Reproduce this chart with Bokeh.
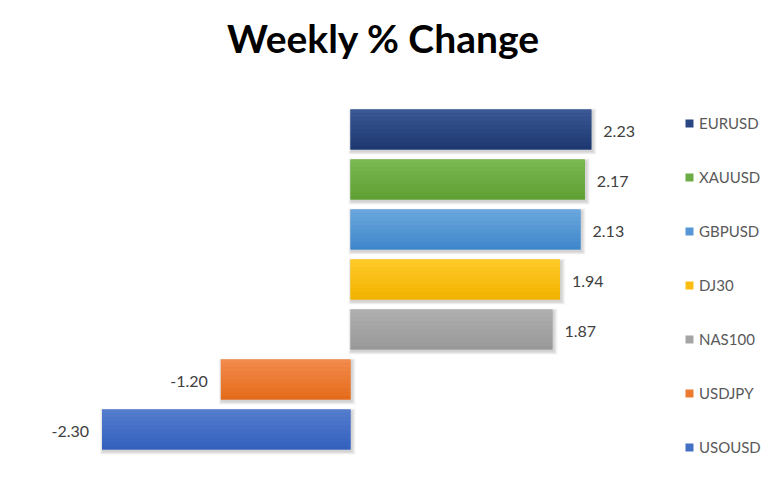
from bokeh.plotting import figure
from bokeh.models import ColumnDataSource, Range1d, Label, Legend, LegendItem
from bokeh.core.properties import value
from bokeh.embed import file_html
from bokeh.resources import INLINE
import numpy as np

categories = ["EURUSD", "XAUUSD", "GBPUSD", "DJ30", "NAS100", "USDJPY", "USOUSD"]
values = [2.23, 2.17, 2.13, 1.94, 1.87, -1.20, -2.30]
top_colors = ["#3b5894", "#7ab851", "#6aa6dd", "#ffc928", "#afafaf", "#f28b4c", "#537ccd"]
bottom_colors = ["#1d3870", "#5f9f33", "#3f87cb", "#f2b300", "#989898", "#e46b1b", "#3461be"]
base_colors = ["#2a4682", "#6dac45", "#5598d5", "#fbbe10", "#a5a5a5", "#ec7b32", "#4470c6"]
title_text = "Weekly % Change"

W, H = 761, 461
PX_PER_X = 108.0
PX_PER_Y = 50.0
ZERO_PX = 350.0
BASE_PX = 32.0

p = figure(width=W, height=H, output_backend="svg", toolbar_location=None,
           x_range=Range1d(-ZERO_PX / PX_PER_X, (W - ZERO_PX) / PX_PER_X),
           y_range=Range1d(-BASE_PX / PX_PER_Y, (H - BASE_PX) / PX_PER_Y),
           min_border=0, min_border_left=0, min_border_right=0,
           min_border_top=0, min_border_bottom=0)
p.axis.visible = False
p.grid.visible = False
p.outline_line_color = None
p.background_fill_color = "white"
p.border_fill_color = "white"

n = len(categories)
ys = [n - 1 - i for i in range(n)]
bar_h = 0.8

src = ColumnDataSource(dict(cat=categories, val=values, y=ys, color=base_colors,
                            zero=[0] * n))

# soft shadow layers (down-right)
dx = 1.0 / PX_PER_X
dy = 1.0 / PX_PER_Y
for k in range(5, 0, -1):
    lefts = [min(0, v) + 1 * dx - k * dx * 0.6 for v in values]
    rights = [max(0, v) + 1 * dx + k * dx * 0.8 for v in values]
    sy = [y - 2 * dy for y in ys]
    p.hbar(y=sy, left=lefts, right=rights, height=bar_h + k * dy * 1.2,
           fill_color="black", fill_alpha=0.035, line_color=None)

# base bars (used for legend)
base = p.hbar(y="y", left="zero", right="val", height=bar_h, source=src,
              fill_color="color", line_color=None)

# gradient strips
def hex2rgb(h):
    h = h.lstrip("#")
    return np.array([int(h[i:i + 2], 16) for i in (0, 2, 4)], dtype=float)

def rgb2hex(c):
    return "#%02x%02x%02x" % tuple(int(round(x)) for x in c)

N = 10
strip_h = bar_h / N
for s in range(N):
    t = s / (N - 1)
    cols = [rgb2hex(hex2rgb(tc) * (1 - t) + hex2rgb(bc) * t) for tc, bc in zip(top_colors, bottom_colors)]
    sy = [y + bar_h / 2 - strip_h * (s + 0.5) for y in ys]
    p.hbar(y=sy, left=[0] * n, right=values, height=strip_h * 1.02,
           fill_color=cols, line_color=None)

# value labels
pos = ColumnDataSource(dict(x=[v for v in values if v >= 0], y=[y for v, y in zip(values, ys) if v >= 0],
                            t=["%.2f" % v for v in values if v >= 0]))
neg = ColumnDataSource(dict(x=[v for v in values if v < 0], y=[y for v, y in zip(values, ys) if v < 0],
                            t=["%.2f" % v for v in values if v < 0]))
p.text(x="x", y="y", text="t", source=pos, x_offset=12, y_offset=2,
       text_align="left", text_baseline="middle", text_font=value("Lato"),
       text_font_size="16px", text_color="#404040")
p.text(x="x", y="y", text="t", source=neg, x_offset=-13, y_offset=2,
       text_align="right", text_baseline="middle", text_font=value("Lato"),
       text_font_size="16px", text_color="#404040")

# title
p.add_layout(Label(x=383, y=424, x_units="screen", y_units="screen", text=title_text,
                   text_align="center", text_baseline="alphabetic",
                   text_font="Lato", text_font_style="bold", text_font_size="39px",
                   text_color="black"))

# legend
items = [LegendItem(label=c, renderers=[base], index=i) for i, c in enumerate(categories)]
legend = Legend(items=items, location=(684, 4), orientation="vertical",
                glyph_width=10, glyph_height=10, label_height=20, spacing=34,
                label_standoff=5, padding=0, margin=0,
                border_line_color=None, background_fill_alpha=0,
                label_text_font="Lato", label_text_font_size="15px",
                label_text_color="#595959")
p.add_layout(legend)

open("out.html", "w").write(file_html(p, INLINE))
